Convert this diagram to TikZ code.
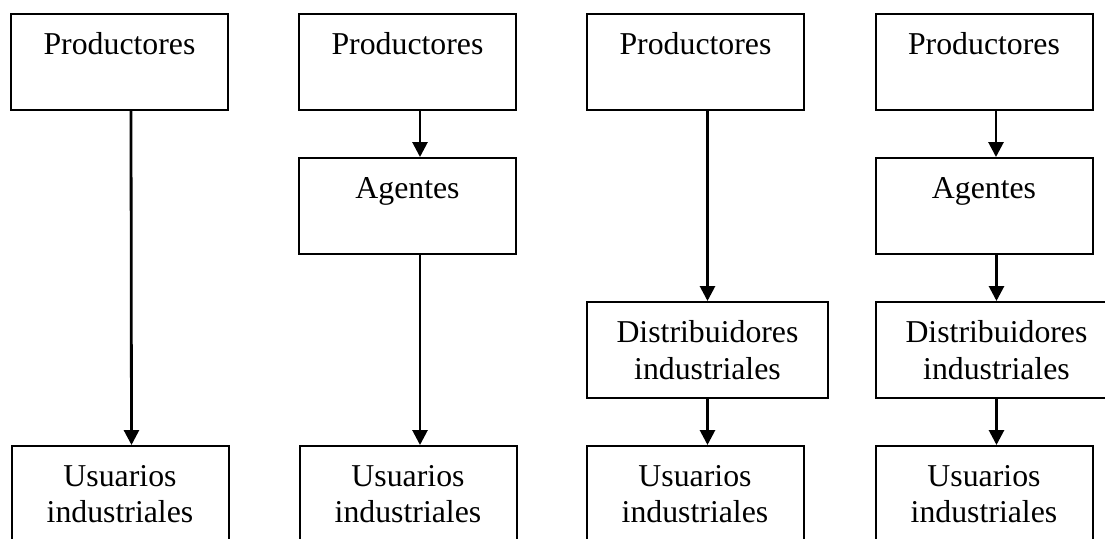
\documentclass[tikz,border=0pt]{standalone}
\usepackage{fontspec}
\setmainfont{Liberation Serif}
\usetikzlibrary{arrows.meta}

\begin{document}
\begin{tikzpicture}[x=0.5pt,y=-0.5pt]
\tikzstyle{every node}=[font=\fontsize{15.9}{18.3}\selectfont]
\tikzstyle{caja}=[draw, line width=1pt, align=center, minimum width=108.5pt, minimum height=48pt, inner sep=0pt]
\tikzstyle{ancha}=[caja, minimum width=120.5pt]
\tikzstyle{flecha}=[draw, line width=1.4pt, -{Triangle[length=7.5pt,width=7.5pt]}]

\clip (0,0) rectangle (1105,538);

\node[caja] (P1) at (119.5,62) {Productores\\~};
\node[caja] (U1) at (120,494) {Usuarios\\industriales};

\node[caja] (P2) at (407.5,62) {Productores\\~};
\node[caja] (A2) at (407.5,206) {Agentes\\~};
\node[caja] (U2) at (408,494) {Usuarios\\industriales};

\node[caja] (P3) at (695.5,62) {Productores\\~};
\node[ancha] (D3) at (707.5,350) {Distribuidores\\industriales};
\node[caja] (U3) at (695,494) {Usuarios\\industriales};

\node[caja] (P4) at (984,62) {Productores\\~};
\node[caja] (A4) at (984,206) {Agentes\\~};
\node[ancha] (D4) at (996.5,350) {Distribuidores\\industriales};
\node[caja] (U4) at (984,494) {Usuarios\\industriales};

\draw[flecha] ([xshift=5.75pt]P1.south) -- ([xshift=5.75pt]U1.north);
\draw[flecha] ([xshift=6.25pt]P2.south) -- ([xshift=6.25pt]A2.north);
\draw[flecha] ([xshift=6.25pt]A2.south) -- ([xshift=6pt]U2.north);
\draw[flecha] (P3.south -| D3) -- (D3.north);
\draw[flecha] (D3.south) -- (U3.north -| D3);
\draw[flecha] ([xshift=6pt]P4.south) -- ([xshift=6pt]A4.north);
\draw[flecha] (A4.south -| D4) -- (D4.north);
\draw[flecha] (D4.south) -- (U4.north -| D4);
\end{tikzpicture}
\end{document}
